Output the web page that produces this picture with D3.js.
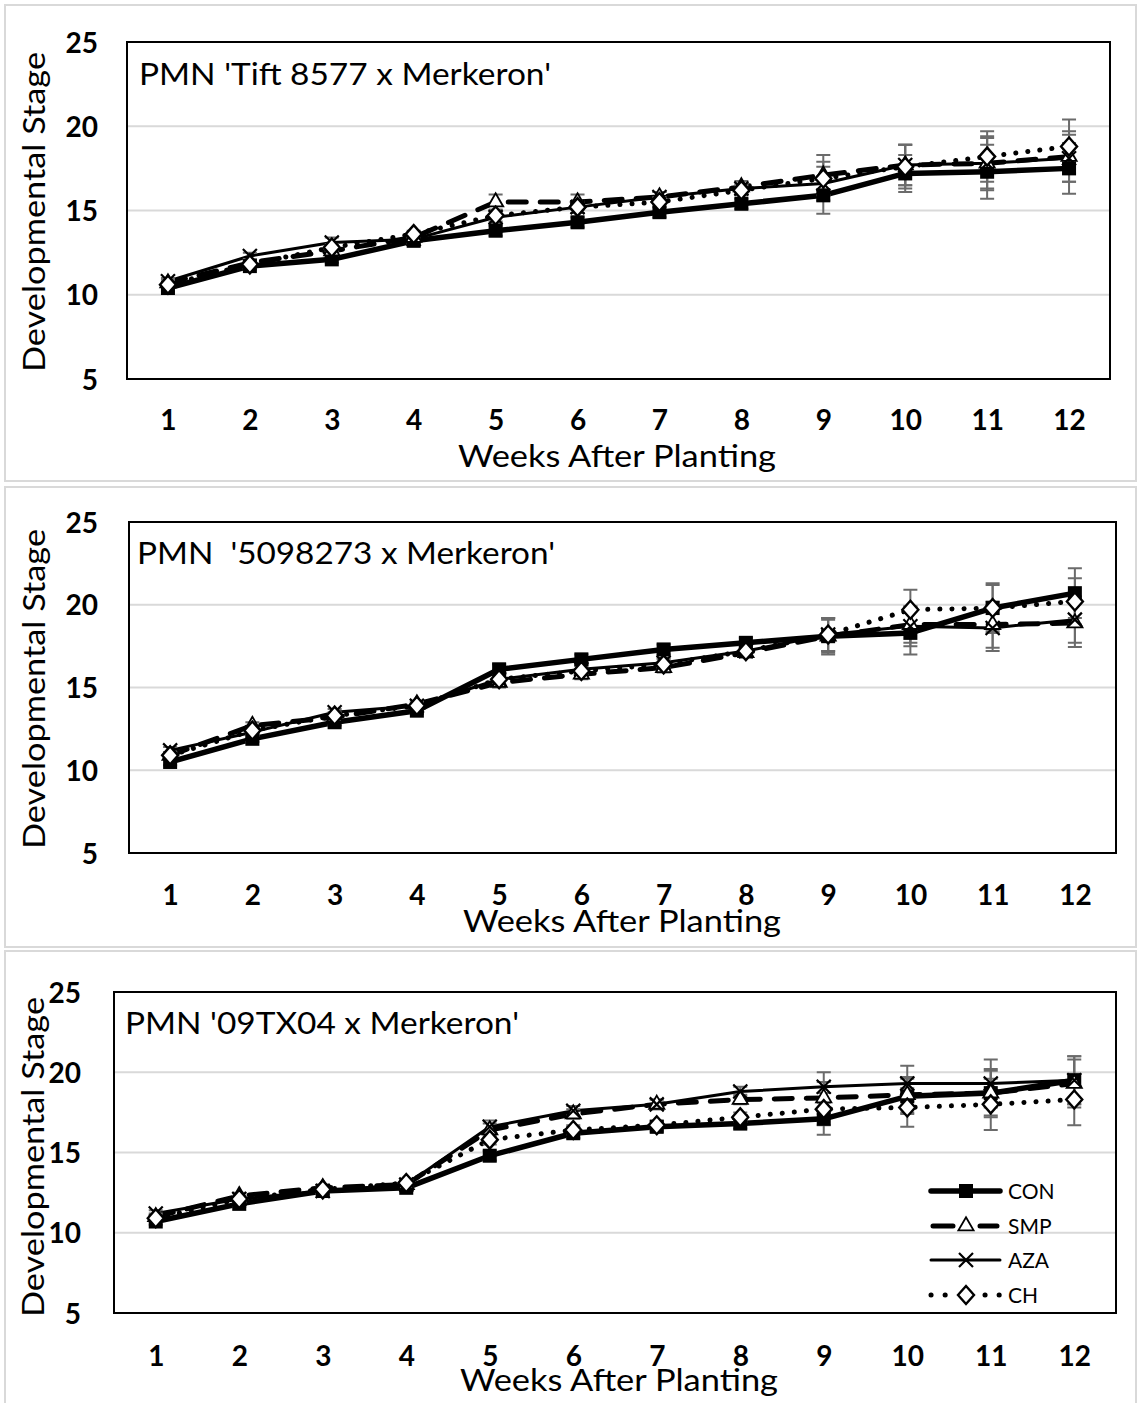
<!DOCTYPE html>
<html>
<head>
<meta charset="utf-8">
<script src="https://cdn.jsdelivr.net/npm/d3@7"></script>
<style>
  body { margin: 0; background: #fff; }
  svg { display: block; }
  text { font-family: Lato, "Open Sans", sans-serif; fill: #000; }
</style>
</head>
<body>
<svg id="chart" width="1139" height="1403"></svg>
<script>
// Week labels and axis ticks shared by all three panels
const weekLabels = ["1", "2", "3", "4", "5", "6", "7", "8", "9", "10", "11", "12"];
const yTicks = [5, 10, 15, 20, 25];
const gridTicks = [10, 15, 20];
const seriesNames = ["CON", "SMP", "AZA", "CH"];
const panelTitles = ["PMN 'Tift 8577 x Merkeron'", "PMN  '5098273 x Merkeron'", "PMN '09TX04 x Merkeron'"];

// PMN 'Tift 8577 x Merkeron' – mean developmental stage and error
const tiftCON = [10.4, 11.7, 12.1, 13.2, 13.8, 14.3, 14.9, 15.4, 15.9, 17.2, 17.3, 17.5];
const tiftSMP = [10.7, 11.9, 12.6, 13.4, 15.5, 15.5, 15.8, 16.4, 17.1, 17.7, 17.8, 18.2];
const tiftAZA = [10.8, 12.3, 13.1, 13.3, 14.6, 15.2, 15.8, 16.3, 16.6, 17.7, 17.8, 18.1];
const tiftCH  = [10.6, 11.8, 12.8, 13.6, 14.7, 15.2, 15.5, 16.2, 16.9, 17.6, 18.2, 18.8];
const tiftCONErr = [0.2, 0.2, 0.2, 0.2, 0.3, 0.3, 0.3, 0.3, 1.1, 1.1, 1.6, 1.5];
const tiftSMPErr = [0.2, 0.2, 0.3, 0.2, 0.45, 0.45, 0.3, 0.35, 1.2, 1.2, 1.6, 1.5];
const tiftAZAErr = [0.2, 0.2, 0.3, 0.2, 0.35, 0.35, 0.3, 0.3, 1.0, 1.2, 1.5, 1.4];
const tiftCHErr  = [0.2, 0.2, 0.2, 0.2, 0.35, 0.35, 0.3, 0.3, 1.0, 1.3, 1.5, 1.6];

// PMN '5098273 x Merkeron'
const p5098CON = [10.5, 11.9, 12.9, 13.6, 16.1, 16.7, 17.3, 17.7, 18.1, 18.3, 19.8, 20.7];
const p5098SMP = [10.9, 12.7, 13.2, 14.0, 15.3, 15.8, 16.2, 17.1, 18.1, 18.8, 18.8, 18.9];
const p5098AZA = [11.2, 12.3, 13.5, 13.9, 15.5, 16.1, 16.5, 17.2, 18.2, 18.7, 18.6, 19.1];
const p5098CH  = [10.9, 12.4, 13.3, 13.9, 15.5, 16.0, 16.4, 17.2, 18.2, 19.7, 19.8, 20.2];
const p5098CONErr = [0.2, 0.2, 0.2, 0.2, 0.3, 0.3, 0.3, 0.3, 1.1, 1.3, 1.5, 1.5];
const p5098SMPErr = [0.2, 0.2, 0.2, 0.2, 0.3, 0.3, 0.3, 0.3, 1.0, 1.1, 1.4, 1.45];
const p5098AZAErr = [0.2, 0.2, 0.2, 0.2, 0.3, 0.3, 0.3, 0.3, 1.0, 1.2, 1.4, 1.4];
const p5098CHErr  = [0.2, 0.2, 0.2, 0.2, 0.3, 0.3, 0.3, 0.3, 1.0, 1.2, 1.4, 1.4];

// PMN '09TX04 x Merkeron'
const tx04CON = [10.7, 11.8, 12.6, 12.8, 14.8, 16.2, 16.6, 16.8, 17.1, 18.5, 18.7, 19.5];
const tx04SMP = [11.0, 12.3, 12.8, 13.0, 16.4, 17.4, 18.0, 18.3, 18.4, 18.6, 18.7, 19.3];
const tx04AZA = [11.2, 12.1, 12.6, 13.0, 16.6, 17.6, 18.0, 18.8, 19.1, 19.3, 19.3, 19.5];
const tx04CH  = [10.9, 12.1, 12.7, 13.1, 15.8, 16.4, 16.7, 17.2, 17.7, 17.8, 18.0, 18.3];
const tx04CONErr = [0.2, 0.2, 0.2, 0.2, 0.3, 0.3, 0.3, 0.3, 1.0, 1.1, 1.5, 1.5];
const tx04SMPErr = [0.2, 0.2, 0.2, 0.2, 0.4, 0.3, 0.3, 0.3, 1.0, 1.1, 1.4, 1.5];
const tx04AZAErr = [0.2, 0.2, 0.2, 0.2, 0.4, 0.3, 0.3, 0.3, 0.9, 1.1, 1.5, 1.5];
const tx04CHErr  = [0.2, 0.2, 0.2, 0.2, 0.3, 0.3, 0.3, 0.3, 1.0, 1.2, 1.6, 1.6];

const panelData = [
  { CON: [tiftCON, tiftCONErr], SMP: [tiftSMP, tiftSMPErr], AZA: [tiftAZA, tiftAZAErr], CH: [tiftCH, tiftCHErr] },
  { CON: [p5098CON, p5098CONErr], SMP: [p5098SMP, p5098SMPErr], AZA: [p5098AZA, p5098AZAErr], CH: [p5098CH, p5098CHErr] },
  { CON: [tx04CON, tx04CONErr], SMP: [tx04SMP, tx04SMPErr], AZA: [tx04AZA, tx04AZAErr], CH: [tx04CH, tx04CHErr] }
];

// Layout of each panel
const layouts = [
  { frame: [5, 5, 1136, 481], plot: { l: 127, r: 1110, t: 42, b: 379 },
    title: { x: 139, y: 85, w: 412 }, tickRight: 98, xTickY: 430,
    xTitle: { cx: 617, y: 467 }, yTitle: { x: 45, cy: 212 } },
  { frame: [5, 487, 1136, 947], plot: { l: 129, r: 1116, t: 522, b: 853 },
    title: { x: 137, y: 564, w: 418 }, tickRight: 98, xTickY: 905,
    xTitle: { cx: 622, y: 932 }, yTitle: { x: 45, cy: 689 } },
  { frame: [5, 951, 1136, 1410], plot: { l: 114, r: 1116, t: 992, b: 1313 },
    title: { x: 125, y: 1034, w: 394 }, tickRight: 81, xTickY: 1366,
    xTitle: { cx: 619, y: 1391 }, yTitle: { x: 44, cy: 1157 } }
];

const styles = {
  CON: { width: 5.5, dash: null, cap: "butt" },
  SMP: { width: 5, dash: "18,14", cap: "round" },
  AZA: { width: 3, dash: null, cap: "butt" },
  CH:  { width: 5, dash: "0.1,12", cap: "round" }
};

const svg = d3.select("#chart");

function drawMarker(g, name, x, y) {
  if (name === "CON") {
    g.append("rect").attr("x", x - 7).attr("y", y - 7).attr("width", 14).attr("height", 14).attr("fill", "#000");
  } else if (name === "SMP") {
    g.append("path").attr("d", d3.symbol(d3.symbolTriangle, 100)()).attr("transform", `translate(${x},${y})`)
      .attr("fill", "#fff").attr("stroke", "#000").attr("stroke-width", 1.8);
  } else if (name === "AZA") {
    g.append("path").attr("d", `M${x - 7},${y - 7}L${x + 7},${y + 7}M${x - 7},${y + 7}L${x + 7},${y - 7}`)
      .attr("stroke", "#000").attr("stroke-width", 2.2).attr("fill", "none");
  } else {
    g.append("path").attr("d", `M${x},${y - 9}L${x + 8},${y}L${x},${y + 9}L${x - 8},${y}Z`)
      .attr("fill", "#fff").attr("stroke", "#000").attr("stroke-width", 2.4);
  }
}

layouts.forEach((L, pi) => {
  const [fx0, fy0, fx1, fy1] = L.frame;
  svg.append("rect").attr("x", fx0).attr("y", fy0).attr("width", fx1 - fx0).attr("height", fy1 - fy0)
    .attr("fill", "#fff").attr("stroke", "#d9d9d9").attr("stroke-width", 2);

  const P = L.plot;
  const x = d3.scalePoint().domain(weekLabels).range([P.l, P.r]).padding(0.5);
  const y = d3.scaleLinear().domain([5, 25]).range([P.b, P.t]);
  const g = svg.append("g");

  // horizontal gridlines
  g.selectAll("line.grid").data(gridTicks).enter().append("line")
    .attr("x1", P.l).attr("x2", P.r).attr("y1", d => y(d)).attr("y2", d => y(d))
    .attr("stroke", "#d9d9d9").attr("stroke-width", 2);

  // y-axis tick labels
  const yAxis = g.append("g").attr("transform", `translate(${P.l},0)`)
    .call(d3.axisLeft(y).tickValues(yTicks).tickSize(0).tickPadding(P.l - L.tickRight));
  yAxis.select(".domain").remove();
  yAxis.selectAll("text").attr("font-family", "Lato").attr("font-weight", "bold").attr("font-size", 28).attr("dy", "0.36em");

  // x-axis tick labels
  const xAxis = g.append("g").attr("transform", `translate(0,${P.b})`)
    .call(d3.axisBottom(x).tickSize(0));
  xAxis.select(".domain").remove();
  xAxis.selectAll("text").attr("font-family", "Lato").attr("font-weight", "bold").attr("font-size", 28)
    .attr("y", L.xTickY - P.b).attr("dy", 0);

  // series: lines, then error bars, then markers
  const data = panelData[pi];
  const line = d3.line().x((d, i) => x(weekLabels[i])).y(d => y(d));
  seriesNames.forEach(name => {
    const s = styles[name];
    g.append("path").datum(data[name][0]).attr("d", line)
      .attr("fill", "none").attr("stroke", "#000").attr("stroke-width", s.width)
      .attr("stroke-dasharray", s.dash).attr("stroke-linecap", s.cap).attr("stroke-linejoin", "round");
  });
  seriesNames.forEach(name => {
    const [vals, errs] = data[name];
    vals.forEach((v, i) => {
      const cx = x(weekLabels[i]);
      const y0 = y(v - errs[i]), y1 = y(v + errs[i]);
      g.append("path").attr("d", `M${cx},${y0}L${cx},${y1}M${cx - 7},${y0}L${cx + 7},${y0}M${cx - 7},${y1}L${cx + 7},${y1}`)
        .attr("stroke", "#6b6b6b").attr("stroke-width", 2).attr("fill", "none");
    });
  });
  seriesNames.forEach(name => {
    data[name][0].forEach((v, i) => drawMarker(g, name, x(weekLabels[i]), y(v)));
  });

  // plot border
  g.append("rect").attr("x", P.l).attr("y", P.t).attr("width", P.r - P.l).attr("height", P.b - P.t)
    .attr("fill", "none").attr("stroke", "#000").attr("stroke-width", 2);

  // panel title
  g.append("text").attr("x", L.title.x).attr("y", L.title.y).attr("font-size", 30)
    .attr("textLength", L.title.w).attr("lengthAdjust", "spacingAndGlyphs")
    .style("white-space", "pre").text(panelTitles[pi]);

  // axis titles
  g.append("text").attr("x", L.xTitle.cx).attr("y", L.xTitle.y).attr("text-anchor", "middle")
    .attr("font-size", 30).attr("textLength", 318).attr("lengthAdjust", "spacingAndGlyphs")
    .text("Weeks After Planting");
  g.append("text").attr("transform", `translate(${L.yTitle.x},${L.yTitle.cy}) rotate(-90)`)
    .attr("text-anchor", "middle").attr("font-size", 30).attr("textLength", 320).attr("lengthAdjust", "spacingAndGlyphs")
    .text("Developmental Stage");

  // legend in the last panel
  if (pi === 2) {
    const lg = g.append("g");
    const rows = [1191, 1226, 1260, 1295];
    seriesNames.forEach((name, k) => {
      const ly = rows[k], s = styles[name];
      if (name === "SMP") {
        lg.append("path").attr("d", `M933,${ly}L953,${ly}M980,${ly}L997,${ly}`)
          .attr("stroke", "#000").attr("stroke-width", s.width).attr("stroke-linecap", "round");
      } else if (name === "CH") {
        lg.append("path").attr("d", `M931,${ly}L950,${ly}M985,${ly}L1000,${ly}`)
          .attr("stroke", "#000").attr("stroke-width", s.width).attr("stroke-linecap", "round")
          .attr("stroke-dasharray", "0.1,14");
      } else {
        lg.append("line").attr("x1", 931).attr("x2", 1000).attr("y1", ly).attr("y2", ly)
          .attr("stroke", "#000").attr("stroke-width", s.width).attr("stroke-linecap", "round");
      }
      drawMarker(lg, name, 966, ly);
      lg.append("text").attr("x", 1008).attr("y", ly).attr("dy", "0.36em").attr("font-size", 21).text(name);
    });
  }
});
</script>
</body>
</html>
